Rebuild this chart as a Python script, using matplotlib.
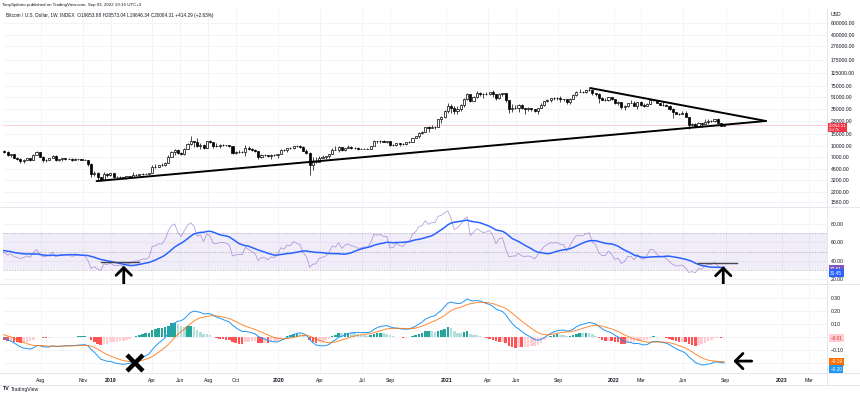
import numpy as np
import pandas as pd
import matplotlib
matplotlib.use("Agg")
import matplotlib.pyplot as plt
import matplotlib.dates as mdates
from matplotlib.lines import Line2D
from matplotlib.ticker import NullLocator
from datetime import date, timedelta

plt.rcParams['font.family'] = ['Liberation Sans', 'DejaVu Sans']

# ---------------------------------------------------------------
# Datos semanales BTC/USD (INDEX, 1W), semana que empieza el lunes
# (fin de 2017 solo sirve para "calentar" RSI y MACD)
# ---------------------------------------------------------------
first_week = date(2017, 9, 4)
first_open = 4600.0
last_open = 19653.88

close_2017 = [4200, 3700, 3600, 4350, 4600, 5700, 6000, 5900, 7350, 6350,
              8000, 9700, 11250, 15100, 19100, 13900, 13880]
high_2017 = [4700, 4350, 4100, 4400, 4650, 5850, 6200, 6200, 7600, 7900,
             8100, 9750, 11800, 17200, 19700, 19200, 16000]
low_2017 = [4000, 2980, 3500, 3580, 4150, 4550, 5100, 5400, 5850, 5500,
            5900, 7950, 9350, 11200, 15100, 10800, 12000]

close_2018 = [16200, 13600, 11600, 11100, 8200, 8100, 10300, 9600, 11500, 9500,
              8200, 8500, 6900, 7000, 8000, 8900, 9400, 9650, 8500, 8200,
              7350, 7700, 6750, 6500, 6150, 6350, 6750, 6350, 7400, 8200,
              7030, 6300, 6400, 6720, 7250, 6250, 6500, 6700, 6600, 6570,
              6300, 6420, 6480, 6400, 6380, 5600, 3950, 4150, 3550, 3250,
              4000, 3850, 4050]
high_2018 = [17250, 17100, 14000, 11900, 11700, 8800, 11200, 11700, 11600, 11700,
             9900, 9100, 8500, 7500, 8200, 9050, 9750, 9990, 9650, 8880,
             8400, 7800, 7780, 6900, 6800, 6500, 6850, 6800, 7600, 8500,
             8250, 7150, 6620, 6800, 7400, 7400, 6600, 6800, 6800, 6700,
             6680, 6650, 6530, 6520, 6580, 6400, 5620, 4400, 4250, 3600,
             4200, 4050, 4100]
low_2018 = [12750, 12800, 9000, 10050, 7800, 5900, 8000, 9300, 9400, 9100,
            7700, 7800, 6450, 6550, 6650, 7850, 8700, 9050, 8350, 7950,
            7250, 7050, 6650, 6300, 5800, 5780, 6250, 6080, 6300, 7370,
            6900, 6000, 5850, 6250, 6650, 6150, 6150, 6200, 6380, 6450,
            6100, 6280, 6380, 6290, 6300, 5200, 3550, 3700, 3250, 3150,
            3250, 3550, 3650]

close_2019 = [3580, 3540, 3540, 3420, 3650, 3620, 3820, 3850, 3900, 4000,
              3980, 4100, 5050, 5080, 5300, 5270, 5750, 6960, 8200, 8730,
              8000, 7630, 8960, 10800, 11900, 11500, 10200, 10500, 9540, 11800,
              11550, 10200, 10150, 10400, 10400, 10300, 10000, 8000, 8200, 8300,
              8220, 9550, 9200, 8800, 8480, 7050, 7550, 7500, 7100, 7500,
              7390, 7750]
high_2019 = [4120, 3730, 3650, 3620, 3690, 3720, 4200, 3930, 3950, 4050,
             4100, 4150, 5350, 5470, 5400, 5650, 5900, 7450, 8400, 8950,
             9100, 8100, 9350, 11250, 13880, 12000, 13200, 11100, 10600, 12000,
             12300, 11600, 10950, 10600, 10900, 10450, 10300, 10100, 8450, 8800,
             8450, 10500, 9950, 9450, 9100, 8500, 7800, 7700, 7500, 7600,
             7700, 7800]
low_2019 = [3500, 3540, 3450, 3370, 3400, 3560, 3600, 3700, 3730, 3820,
            3930, 3950, 4080, 4900, 5000, 5100, 5250, 5650, 6900, 7500,
            7800, 7450, 7550, 8950, 10350, 9650, 9850, 9100, 9200, 9400,
            11100, 9500, 9800, 9350, 10000, 9900, 9700, 7750, 7800, 7950,
            7900, 7300, 8850, 8650, 8300, 6600, 6850, 7150, 7000, 6450,
            7120, 6850]

close_2020 = [8900, 8700, 9400, 9300, 10150, 9900, 9700, 8550, 7900, 5360,
              5830, 5880, 6770, 6900, 7120, 7700, 8900, 8720, 9700, 8720,
              9450, 9670, 9380, 9300, 9010, 9070, 9240, 9160, 9930, 11800,
              11680, 11900, 11650, 11700, 10250, 10330, 11080, 10770, 10670, 11300,
              11500, 13100, 13800, 15480, 16000, 18700, 18200, 19150, 19150, 24700,
              26450, 32200]
high_2020 = [8950, 9200, 9450, 9600, 10200, 10500, 10250, 10000, 9200, 8200,
             6900, 6950, 7200, 7470, 7300, 7800, 9450, 10000, 9950, 9850,
             9550, 10400, 9950, 9750, 9750, 9300, 9450, 9350, 10000, 12100,
             11900, 12100, 12480, 11800, 12050, 10600, 11150, 11100, 10950, 11450,
             11750, 13200, 14050, 15900, 16400, 18800, 19450, 19900, 19400, 24900,
             27400, 33300]
low_2020 = [7700, 8500, 8250, 9150, 9150, 9700, 9450, 8450, 7650, 3850,
            4450, 5700, 5850, 6700, 6460, 6800, 7650, 8700, 8200, 8650,
            8650, 9300, 9100, 9200, 8850, 8950, 9050, 9050, 9150, 9900,
            10950, 11150, 11550, 11200, 9900, 9900, 10200, 10150, 10400, 10550,
            11200, 11400, 12950, 13300, 14800, 15800, 16200, 18000, 17600, 19000,
            21900, 25900]

close_2021 = [38150, 36000, 32100, 34300, 38900, 48600, 57400, 45200, 51000, 59000,
              57500, 55800, 57100, 60000, 56200, 49000, 56600, 58200, 46500, 34700,
              35600, 35800, 39000, 35500, 34700, 35300, 34200, 31800, 35400, 39900,
              44600, 47100, 49300, 48900, 49900, 48300, 48300, 43200, 48200, 55000,
              61500, 61300, 61300, 64400, 65500, 59000, 57200, 49400, 46700, 46700,
              50800, 47300]
high_2021 = [41950, 40100, 37800, 38500, 40900, 49700, 58350, 57500, 52600, 61700,
             61000, 58300, 60150, 61200, 64850, 57500, 58400, 59500, 59600, 46600,
             40800, 39400, 40900, 41300, 35750, 36600, 35500, 34300, 35450, 42450,
             44700, 48100, 49300, 50500, 51050, 52900, 48800, 48400, 49200, 56500,
             62000, 67000, 63700, 64500, 69000, 66300, 59300, 59000, 51900, 50100,
             51850, 52000]
low_2021 = [30200, 30400, 28800, 29300, 32300, 37400, 46300, 43000, 44950, 49300,
            53100, 50400, 55400, 55500, 51300, 47000, 48800, 53000, 43800, 30000,
            31200, 34800, 31000, 34900, 28900, 32700, 32100, 31200, 29300, 35200,
            37500, 43800, 43900, 46400, 46500, 42800, 45600, 40100, 40800, 48000,
            53900, 59700, 58100, 59500, 62300, 55600, 53250, 42000, 45700, 45500,
            45600, 45700]

close_2022 = [41900, 43100, 36300, 37900, 42400, 42200, 38400, 43200, 38800, 37800,
              41300, 46800, 46400, 42200, 39700, 39500, 37700, 34100, 31300, 29450,
              29450, 29900, 26600, 20550, 21050, 19300, 21600, 20800, 22600, 23300,
              23200, 24300, 21500, 19650, 20064.31]
high_2022 = [47500, 44400, 43500, 38900, 42600, 45850, 44750, 44100, 45400, 42600,
             42350, 47200, 48200, 47200, 42400, 42950, 40800, 39900, 35400, 31300,
             30600, 32200, 31700, 26800, 21850, 21500, 22300, 21600, 24300, 24600,
             23650, 24900, 25200, 21800, 20573.04]
low_2022 = [40600, 39600, 34000, 32950, 36300, 41700, 38000, 34300, 37600, 37200,
            37550, 40900, 44200, 42100, 39300, 38600, 37600, 33700, 25400, 28700,
            28100, 29400, 26500, 17600, 19650, 18650, 18950, 18950, 20700, 20750,
            22400, 22700, 20800, 19550, 19646.34]

# textos del gráfico
header_pub = "TonySpilotro published on TradingView.com, Sep 03, 2022 19:16 UTC+3"
header_sym = ("Bitcoin / U.S. Dollar, 1W, INDEX  O19653.88 H20573.04 "
              "L19646.34 C20064.31 +414.29 (+2.63%)")
price_ticks = [1560, 2200, 3200, 4600, 7000, 10000, 15000, 23000, 35000, 51000,
               75000, 115000, 175000, 276000, 400000, 600000]
rsi_ticks = [20, 40, 60, 80]
macd_ticks = [-0.10, 0.10, 0.20, 0.30]
macd_grid = [-0.2, -0.1, 0.0, 0.1, 0.2, 0.3]
time_ticks = ["2018-08-01", "2018-11-01", "2019-01-01", "2019-04-01", "2019-06-01",
              "2019-08-01", "2019-10-01", "2020-01-01", "2020-04-01", "2020-07-01",
              "2020-09-01", "2021-01-01", "2021-04-01", "2021-06-01", "2021-09-01",
              "2022-01-01", "2022-03-01", "2022-06-01", "2022-09-01", "2023-01-01",
              "2023-03-01"]
time_labels = ["Aug", "Nov", "2019", "Apr", "Jun", "Aug", "Oct", "2020", "Apr", "Jul",
               "Sep", "2021", "Apr", "Jun", "Sep", "2022", "Mar", "Jun", "Sep", "2023",
               "Mar"]

# dibujos del autor (triángulo, niveles y flechas)
tri_top = ("2021-11-10", 69200)
tri_low = ("2018-12-01", 3130)
tri_apex = ("2022-11-28", 23100)
rsi_levels = [("2018-12-10", "2019-03-03", 38.6), ("2022-07-03", "2022-09-26", 37.5)]
rsi_arrows = [("2019-01-29", 34.5), ("2022-08-27", 34.0)]
macd_cross = ("2019-02-22", -0.20)
macd_arrow = ("2022-10-28", "2022-09-18", -0.185)

# ---------------------------------------------------------------
closes = np.array(close_2017 + close_2018 + close_2019 + close_2020 + close_2021
                  + close_2022, float)
highs = np.array(high_2017 + high_2018 + high_2019 + high_2020 + high_2021
                 + high_2022, float)
lows = np.array(low_2017 + low_2018 + low_2019 + low_2020 + low_2021 + low_2022, float)
opens = np.concatenate([[first_open], closes[:-1]])
opens[-1] = last_open
weeks = [first_week + timedelta(weeks=i) for i in range(len(closes))]
xs = mdates.date2num(weeks)


def dn(s):
    return mdates.datestr2num(s)


# RSI (14) con suavizado de Wilder
def calc_rsi(c, n=14):
    d = np.diff(c)
    up = np.where(d > 0, d, 0.0)
    down = np.where(d < 0, -d, 0.0)
    out = np.full(len(c), np.nan)
    au, ad = up[:n].mean(), down[:n].mean()
    out[n] = 100 - 100 / (1 + au / ad)
    for i in range(n + 1, len(c)):
        au = (au * (n - 1) + up[i - 1]) / n
        ad = (ad * (n - 1) + down[i - 1]) / n
        out[i] = 100 - 100 / (1 + au / ad)
    return out


rsi = calc_rsi(closes)
rsi_ma = pd.Series(rsi).rolling(14).mean().values

cs = pd.Series(closes)
ema_fast = cs.ewm(span=12, adjust=False).mean()
ema_slow = cs.ewm(span=26, adjust=False).mean()
macd = np.log(ema_fast / ema_slow).values
signal = pd.Series(macd).ewm(span=9, adjust=False).mean().values
hist = macd - signal
hist_colors = []
for i in range(len(hist)):
    prev = hist[i - 1] if i > 0 else hist[i]
    if hist[i] >= 0:
        hist_colors.append('#26A69A' if hist[i] > prev else '#B2DFDB')
    else:
        hist_colors.append('#FFCDD2' if hist[i] > prev else '#FF5252')

# ---------------------------------------------------------------
W, H = 860, 395
fig = plt.figure(figsize=(8.6, 3.95), dpi=100)
fig.patch.set_facecolor('white')


def px_axes(x0, y0, x1, y1):
    return fig.add_axes([x0 / W, 1 - y1 / H, (x1 - x0) / W, (y1 - y0) / H])


ax = px_axes(3, 9, 827, 206)
ax_rsi = px_axes(3, 207, 827, 283)
ax_macd = px_axes(3, 284, 827, 372)

grid_c = '#F0F3FA'
txt_c = '#131722'
tick_x = [dn(t) for t in time_ticks]
xlim = (dn("2018-05-11"), dn("2023-04-10"))

for a in (ax, ax_rsi, ax_macd):
    a.set_xlim(*xlim)
    for s in a.spines.values():
        s.set_visible(False)
    a.set_xticks(tick_x)
    a.yaxis.tick_right()
    a.tick_params(axis='both', length=0, labelsize=3.7, labelcolor=txt_c, pad=2.5)
    a.tick_params(axis='x', labelbottom=False)
    a.grid(True, color=grid_c, lw=0.6)
    a.set_axisbelow(True)

# --- panel de precio (log) ---
ax.set_yscale('log')
ax.set_ylim(10 ** (3.1931 - 4 / 69.2), 10 ** (3.1931 + 193 / 69.2))
ax.yaxis.set_minor_locator(NullLocator())
ax.set_yticks(price_ticks)
ax.set_yticklabels([f"{t:.2f}" for t in price_ticks])

ax.vlines(xs, lows, highs, color='black', lw=0.5, zorder=2)
up = closes >= opens
body_lo = np.minimum(opens, closes)
body_h = np.maximum(np.abs(closes - opens), body_lo * 0.004)
ax.bar(xs[up], body_h[up], bottom=body_lo[up], width=4.6, color='white',
       edgecolor='black', lw=0.5, zorder=3)
ax.bar(xs[~up], body_h[~up], bottom=body_lo[~up], width=4.6, color='black',
       edgecolor='black', lw=0.5, zorder=3)

ax.axhline(closes[-1], color='#F23645', lw=0.5, alpha=0.3, zorder=1)
ax.plot([dn(tri_top[0]), dn(tri_apex[0])], [tri_top[1], tri_apex[1]], color='black',
        lw=1.4, zorder=4, solid_capstyle='round')
ax.plot([dn(tri_low[0]), dn(tri_apex[0])], [tri_low[1], tri_apex[1]], color='black',
        lw=1.4, zorder=4, solid_capstyle='round')

ax.annotate(f"{closes[-1]:.2f}\n2d 7h", xy=(1.0, closes[-1]),
            xycoords=ax.get_yaxis_transform(), xytext=(1.5, 1.0),
            textcoords='offset points', ha='left', va='top', fontsize=3.1,
            color='white', linespacing=1.0, annotation_clip=False, zorder=6,
            bbox=dict(boxstyle='square,pad=0.15', fc='#F23645', ec='none'))
fig.text(831 / W, 1 - 14 / H, "USD", fontsize=3.7, color=txt_c, va='center')
ax.text(0.004, 1 - 6 / 197, header_sym, transform=ax.transAxes, fontsize=3.4,
        color=txt_c, va='center')
fig.text(2 / W, 1 - 5 / H, header_pub, fontsize=3.2, color=txt_c, va='center')

# --- panel RSI ---
ax_rsi.set_ylim(15.6, 98.7)
ax_rsi.set_yticks(rsi_ticks)
ax_rsi.set_yticklabels([f"{t:.2f}" for t in rsi_ticks])
ax_rsi.axhspan(30, 70, color='#7E57C2', alpha=0.1, lw=0)
for lvl in (30, 50, 70):
    ax_rsi.axhline(lvl, color='#787B86', lw=0.5, ls=(0, (2, 2)), alpha=0.6)
ax_rsi.plot(xs, rsi, color='#7E57C2', lw=0.6, alpha=0.55)
ax_rsi.plot(xs, rsi_ma, color='#2962FF', lw=1.1)
for x0, x1, lv in rsi_levels:
    ax_rsi.plot([dn(x0), dn(x1)], [lv, lv], color='#434651', lw=1.0, zorder=5)
for xd, tip in rsi_arrows:
    an = ax_rsi.annotate("", xy=(dn(xd), tip), xytext=(dn(xd), 13.5),
                         arrowprops=dict(arrowstyle='->,head_length=0.55,head_width=0.55',
                                         lw=2.0, color='black', mutation_scale=10,
                                         shrinkA=0, shrinkB=0),
                         annotation_clip=False, zorder=6)
    an.arrow_patch.set_clip_on(False)
ax_rsi.text(1.004, 30.9, "32.61", transform=ax_rsi.get_yaxis_transform(), ha='left',
            va='center', fontsize=3.4, color='white', clip_on=False,
            bbox=dict(boxstyle='square,pad=0.3', fc='#7E57C2', ec='none'))
ax_rsi.text(1.004, 26.4, "31.45", transform=ax_rsi.get_yaxis_transform(), ha='left',
            va='center', fontsize=3.4, color='white', clip_on=False,
            bbox=dict(boxstyle='square,pad=0.3', fc='#2962FF', ec='none'))

# --- panel MACD ---
ax_macd.set_ylim(-0.269, 0.408)
ax_macd.set_yticks(macd_grid)
ax_macd.set_yticklabels([f"{t:.2f}".replace('-', '\u2212') if t in macd_ticks else ""
                         for t in macd_grid])
ax_macd.bar(xs, hist, width=5.6, color=hist_colors, lw=0)
ax_macd.plot(xs, macd, color='#2196F3', lw=0.7)
ax_macd.plot(xs, signal, color='#FF6D00', lw=0.7, alpha=0.8)
ax_macd.plot([dn(macd_cross[0])], [macd_cross[1]], marker='x', ms=11, mew=3.2,
             color='black', zorder=6)
an = ax_macd.annotate("", xy=(dn(macd_arrow[1]), macd_arrow[2]),
                      xytext=(dn(macd_arrow[0]), macd_arrow[2]),
                      arrowprops=dict(arrowstyle='->,head_length=0.55,head_width=0.55',
                                      lw=2.0, color='black', mutation_scale=10,
                                      shrinkA=0, shrinkB=0), zorder=6)
for val, txt, fc, tc in [(-0.008, "\u22120.01", '#FFCDD2', '#D32F2F'),
                         (-0.19, "\u22120.19", '#FF6D00', 'white'),
                         (-0.246, "\u22120.20", '#2196F3', 'white')]:
    ax_macd.text(1.004, val, txt, transform=ax_macd.get_yaxis_transform(), ha='left',
                 va='center', fontsize=3.4, color=tc, clip_on=False,
                 bbox=dict(boxstyle='square,pad=0.3', fc=fc, ec='none'))

ax_macd.tick_params(axis='x', labelbottom=True, pad=4)
ax_macd.set_xticklabels(time_labels)
for lab in ax_macd.get_xticklabels():
    if lab.get_text().isdigit():
        lab.set_fontweight('bold')

# separadores de paneles
sep_c = '#E0E3EB'
for yy in (206.5, 283.5, 372.5):
    fig.add_artist(Line2D([0, 1], [1 - yy / H] * 2, color=sep_c, lw=0.6))
fig.add_artist(Line2D([827 / W] * 2, [1 - 385 / H, 1 - 9 / H], color=sep_c, lw=0.6))
fig.add_artist(Line2D([0, 1], [1 - 385 / H] * 2, color=sep_c, lw=0.6))

fig.text(3 / W, 1 - 389 / H, "TV", fontsize=3.8, fontweight='bold', color=txt_c, va='center')
fig.text(11 / W, 1 - 389 / H, "TradingView", fontsize=3.6, color=txt_c, va='center')

fig.savefig("out.png", dpi=100, facecolor='white')
